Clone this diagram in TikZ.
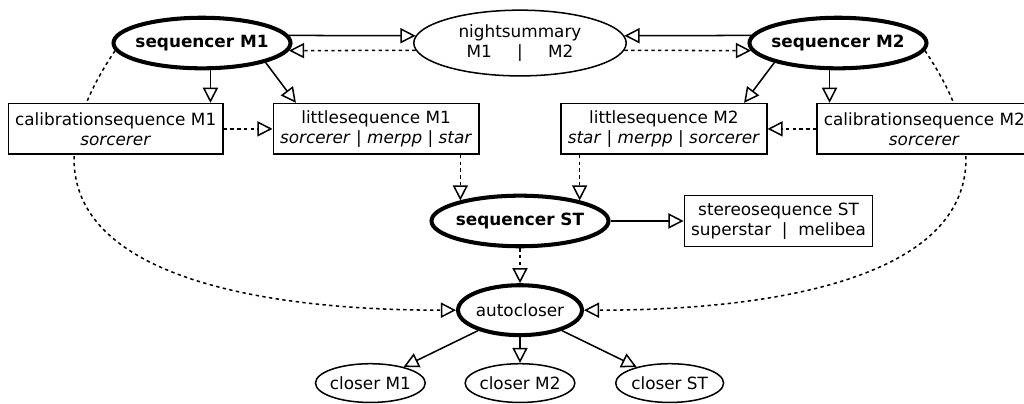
\documentclass[tikz,border=0pt]{standalone}
\usepackage{fontspec}
\setmainfont{DejaVu Sans}
\usepackage{tikz}
\usetikzlibrary{positioning,shapes.geometric,arrows.meta,backgrounds}

\begin{document}
\begin{tikzpicture}
[
on grid,
seq-a/.style={ellipse, draw, line width=2.4pt, font=\bfseries, minimum width=105pt, minimum height=30pt, inner xsep=-2.5pt, inner ysep=0pt},
seq-b/.style={ellipse, draw, line width=2.4pt, minimum width=73.5pt, minimum height=29.6pt, inner xsep=-1pt, inner ysep=0pt},
oval-a/.style={ellipse, draw, line width=0.9pt, align=center, minimum width=126pt, minimum height=39pt, inner sep=0pt},
oval-b/.style={ellipse, draw, line width=0.9pt, minimum width=64pt, minimum height=23pt, inner xsep=-1pt, inner ysep=0pt},
box-a/.style={rectangle, draw, line width=0.9pt, fill=white, align=center, minimum height=30pt, inner xsep=4pt},
link-a/.style={-{Triangle[open, length=9pt, width=9pt]}, line width=0.9pt},
link-b/.style={link-a, dash pattern=on 2pt off 2pt}
]

\useasboundingbox (-10.842,0.897) rectangle (10.508,-7.506);
\clip (-10.842,0.897) rectangle (10.508,-7.506);

\node (night)      [oval-a]                                          {nightsummary\\M1\hspace{15pt}|\hspace{15pt}M2};
\node (seq-m1)     [seq-a, left        = 6.63cm of night]            {sequencer M1};
\node (seq-m2)     [seq-a, right       = 6.63cm of night]            {sequencer M2};
\node (calib-m1)   [box-a, below left  = 1.79cm and 1.80cm of seq-m1] {calibrationsequence M1\\\textit{sorcerer}};
\node (little-m1)  [box-a, below right = 1.79cm and 3.63cm of seq-m1] {littlesequence M1\\\textit{sorcerer} | \textit{merpp} | \textit{star}};
\node (little-m2)  [box-a, below left  = 1.79cm and 3.63cm of seq-m2] {littlesequence M2\\\textit{star} | \textit{merpp} | \textit{sorcerer}};
\node (calib-m2)   [box-a, below right = 1.79cm and 1.80cm of seq-m2] {calibrationsequence M2\\\textit{sorcerer}};
\node (seq-st)     [seq-a, below       = 3.71cm of night]            {sequencer ST};
\node (stereo)     [box-a, right       = 5.39cm of seq-st]           {stereosequence ST\\superstar \ | \ melibea};
\node (autocloser) [seq-b, below       = 1.86cm of seq-st]           {autocloser};
\node (closer-m2)  [oval-b, below      = 1.52cm of autocloser]       {closer M2};
\node (closer-m1)  [oval-b, left       = 3.12cm of closer-m2]        {closer M1};
\node (closer-st)  [oval-b, right      = 3.12cm of closer-m2]        {closer ST};

\draw [link-a] (seq-m1.5) -- (night.176);
\draw [link-b] (night.184) -- (seq-m1.355);
\draw [link-a] (seq-m2.175) -- (night.4);
\draw [link-b] (night.356) -- (seq-m2.185);
\draw [link-a] ([xshift=5pt]seq-m1.south) -- ([xshift=5pt]seq-m1.south |- calib-m1.north);
\draw [link-a] (seq-m1.-17) -- (little-m1.162);
\draw [link-a] ([xshift=-5pt]seq-m2.south) -- ([xshift=-5pt]seq-m2.south |- calib-m2.north);
\draw [link-a] (seq-m2.-163) -- (little-m2.18);
\draw [link-b] (calib-m1) -- (little-m1);
\draw [link-b] (calib-m2) -- (little-m2);
\draw [link-b] (seq-st.161 |- little-m1.south) -- (seq-st.161);
\draw [link-b] (seq-st.19 |- little-m2.south) -- (seq-st.19);
\draw [link-a] (seq-st) -- (stereo);
\draw [link-b] (seq-st) -- (autocloser);
\draw [link-a] (autocloser) -- (closer-m1);
\draw [link-a] (autocloser) -- (closer-m2);
\draw [link-a] (autocloser) -- (closer-st);

% long links behind the calibration boxes
\begin{scope}[on background layer]
\draw [link-b] (seq-m1.185) .. controls +(-2.81,-4.17) and +(-5.32,0) .. (autocloser.west);
\draw [link-b] (seq-m2.-5) .. controls +(2.81,-4.17) and +(5.32,0) .. (autocloser.east);
\end{scope}

\end{tikzpicture}
\end{document}
